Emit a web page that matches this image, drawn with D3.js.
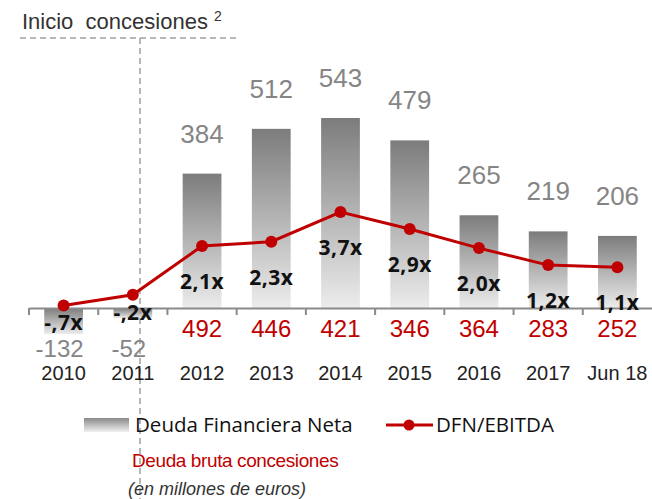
<!DOCTYPE html>
<html>
<head>
<meta charset="utf-8">
<script src="https://cdn.jsdelivr.net/npm/d3@7"></script>
<style>
  body { margin: 0; background: #fff; }
  svg { display: block; }
</style>
</head>
<body>
<div id="chart"></div>
<script>
var categories = ["2010", "2011", "2012", "2013", "2014", "2015", "2016", "2017", "Jun 18"];
var deudaNeta = [-132, -52, 384, 512, 543, 479, 265, 219, 206];
var dfnEbitda = [-0.7, -0.2, 2.1, 2.3, 3.7, 2.9, 2.0, 1.2, 1.1];
var ratioLabels = ["-,7x", "-,2x", "2,1x", "2,3x", "3,7x", "2,9x", "2,0x", "1,2x", "1,1x"];
var deudaBruta = [null, null, 492, 446, 421, 346, 364, 283, 252];

var width = 652, height = 499;
var svg = d3.select("#chart").append("svg")
    .attr("width", width)
    .attr("height", height);

var x = d3.scaleBand().domain(categories).range([29, 652]).paddingInner(0.44).paddingOuter(0.22);
var xStep = d3.scaleBand().domain(categories).range([29, 652]);
var y = d3.scaleLinear().domain([-132, 0, 543]).range([334, 308, 118]);
var y2 = d3.scaleLinear().domain([0, 3.7]).range([290.6, 212]);
var cx = function(d, i) { return xStep(categories[i]) + xStep.bandwidth() / 2; };

var defs = svg.append("defs");
var grad = defs.append("linearGradient").attr("id", "barGrad")
    .attr("x1", 0).attr("y1", 0).attr("x2", 0).attr("y2", 1);
grad.append("stop").attr("offset", "0%").attr("stop-color", "#7c7c7c");
grad.append("stop").attr("offset", "100%").attr("stop-color", "#ececec");

// bars
svg.append("g").selectAll("rect")
    .data(deudaNeta)
    .enter().append("rect")
    .attr("x", function(d, i) { return x(categories[i]); })
    .attr("width", x.bandwidth())
    .attr("y", function(d) { return Math.min(y(d), y(0)); })
    .attr("height", function(d) { return Math.abs(y(d) - y(0)); })
    .attr("fill", "url(#barGrad)");

// dashed "inicio concesiones" marker
svg.append("line").attr("x1", 20).attr("x2", 238).attr("y1", 38).attr("y2", 38)
    .attr("stroke", "#a0a0a0").attr("stroke-width", 1.5).attr("stroke-dasharray", "6,4");
svg.append("line").attr("x1", 140).attr("x2", 140).attr("y1", 38).attr("y2", height)
    .attr("stroke", "#a0a0a0").attr("stroke-width", 1.5).attr("stroke-dasharray", "6,4");
var title = svg.append("text").attr("x", 22).attr("y", 29)
    .attr("font-family", "Liberation Sans, Arial, sans-serif").attr("font-size", 22)
    .attr("fill", "#333");
title.append("tspan").text("Inicio\u00a0\u00a0concesiones\u00a0");
title.append("tspan").attr("font-size", 14).attr("dy", -8).text("2");

// axis
var axis = svg.append("g").attr("transform", "translate(0,308)")
    .call(d3.axisBottom(xStep).tickSize(0).tickFormat(""));
axis.select(".domain").attr("stroke", "#8a8a8a").attr("stroke-width", 2);
axis.selectAll(".tick").remove();
axis.selectAll(".sep").data(categories).enter().append("line")
    .attr("x1", function(d) { return xStep(d); }).attr("x2", function(d) { return xStep(d); })
    .attr("y1", 0).attr("y2", 7).attr("stroke", "#8a8a8a").attr("stroke-width", 2);

// line
svg.append("path").datum(dfnEbitda)
    .attr("fill", "none").attr("stroke", "#c00000").attr("stroke-width", 3)
    .attr("d", d3.line().x(cx).y(function(d) { return y2(d); }));
svg.append("g").selectAll("circle").data(dfnEbitda).enter().append("circle")
    .attr("cx", cx).attr("cy", function(d) { return y2(d); }).attr("r", 6)
    .attr("fill", "#c00000");

// ratio labels
svg.append("g").selectAll("text").data(dfnEbitda).enter().append("text")
    .attr("x", cx)
    .attr("y", function(d) { return d < 0 ? y2(d) + 25 : y2(d) + 43; })
    .attr("text-anchor", "middle")
    .attr("font-family", "Open Sans, sans-serif").attr("font-weight", 700).attr("font-size", 21)
    .attr("letter-spacing", 0.5)
    .attr("fill", "#111")
    .text(function(d, i) { return ratioLabels[i]; });

// net debt labels
svg.append("g").selectAll("text").data(deudaNeta).enter().append("text")
    .attr("x", function(d, i) { return cx(d, i) - (d < 0 ? 4 : 0); })
    .attr("y", function(d) { return d < 0 ? 357 : y(d) - 31; })
    .attr("text-anchor", "middle")
    .attr("font-family", "Liberation Sans, Arial, sans-serif")
    .attr("font-size", function(d) { return d < 0 ? 24 : 26; })
    .attr("fill", "#858585")
    .text(function(d) { return d; });

// gross debt labels
svg.append("g").selectAll("text").data(deudaBruta).enter().append("text")
    .attr("x", cx).attr("y", 337)
    .attr("text-anchor", "middle")
    .attr("font-family", "Liberation Sans, Arial, sans-serif").attr("font-size", 24)
    .attr("fill", "#c00000")
    .text(function(d) { return d === null ? "" : d; });

// category labels
svg.append("g").selectAll("text").data(categories).enter().append("text")
    .attr("x", function(d) { return xStep(d) + xStep.bandwidth() / 2; }).attr("y", 380)
    .attr("text-anchor", "middle")
    .attr("font-family", "Liberation Sans, Arial, sans-serif").attr("font-size", 20)
    .attr("fill", "#222")
    .text(function(d) { return d; });

// legend
var lgrad = defs.append("linearGradient").attr("id", "legGrad")
    .attr("x1", 0).attr("y1", 0).attr("x2", 0).attr("y2", 1);
lgrad.append("stop").attr("offset", "0%").attr("stop-color", "#8a8a8a");
lgrad.append("stop").attr("offset", "100%").attr("stop-color", "#f0f0f0");
svg.append("rect").attr("x", 84).attr("y", 418).attr("width", 45).attr("height", 14)
    .attr("fill", "url(#legGrad)");
svg.append("text").attr("x", 135).attr("y", 432)
    .attr("font-family", "Open Sans, sans-serif").attr("font-size", 20.5).attr("fill", "#111")
    .text("Deuda Financiera Neta");
svg.append("line").attr("x1", 386).attr("x2", 433).attr("y1", 425).attr("y2", 425)
    .attr("stroke", "#c00000").attr("stroke-width", 3);
svg.append("circle").attr("cx", 409).attr("cy", 425).attr("r", 5.5).attr("fill", "#c00000");
svg.append("text").attr("x", 436).attr("y", 432)
    .attr("font-family", "Open Sans, sans-serif").attr("font-size", 20.5).attr("fill", "#111")
    .text("DFN/EBITDA");
svg.append("text").attr("x", 132).attr("y", 467)
    .attr("font-family", "Liberation Sans, Arial, sans-serif").attr("font-size", 19)
    .attr("letter-spacing", -0.4).attr("fill", "#c00000")
    .text("Deuda bruta concesiones");
svg.append("text").attr("x", 128).attr("y", 495)
    .attr("font-family", "Liberation Sans, Arial, sans-serif").attr("font-size", 18)
    .attr("font-style", "italic").attr("fill", "#333")
    .text("(en millones de euros)");
</script>
</body>
</html>
